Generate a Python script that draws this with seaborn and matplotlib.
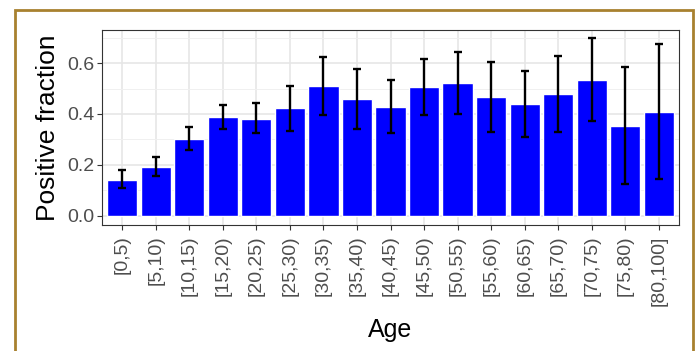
import numpy as np
import pandas as pd
import seaborn as sns
import matplotlib.pyplot as plt
from matplotlib.patches import Rectangle

ages = ['[0,5)', '[5,10)', '[10,15)', '[15,20)', '[20,25)', '[25,30)', '[30,35)',
        '[35,40)', '[40,45)', '[45,50)', '[50,55)', '[55,60)', '[60,65)', '[65,70)',
        '[70,75)', '[75,80)', '[80,100]']
frac = [0.142, 0.192, 0.302, 0.387, 0.381, 0.424, 0.510, 0.458, 0.429,
        0.505, 0.521, 0.466, 0.438, 0.478, 0.534, 0.354, 0.409]
lower = [0.110, 0.155, 0.260, 0.339, 0.324, 0.334, 0.395, 0.339, 0.324,
         0.396, 0.399, 0.329, 0.308, 0.330, 0.372, 0.126, 0.143]
upper = [0.179, 0.229, 0.347, 0.434, 0.442, 0.510, 0.624, 0.578, 0.534,
         0.617, 0.645, 0.604, 0.570, 0.629, 0.699, 0.584, 0.675]

df = pd.DataFrame({'Age': ages, 'frac': frac, 'lower': lower, 'upper': upper})

sns.set_style('whitegrid')
plt.rcParams['font.family'] = ['Liberation Sans', 'DejaVu Sans']

fig = plt.figure(figsize=(6.98, 3.51), dpi=100)
ax = fig.add_axes([102 / 698, 1 - 225 / 351, 577 / 698, 195 / 351])

sns.barplot(data=df, x='Age', y='frac', color='#0000FF', saturation=1,
            width=0.9, ax=ax, zorder=2)

pos = np.arange(len(df))
ax.errorbar(pos, df['frac'],
            yerr=[df['frac'] - df['lower'], df['upper'] - df['frac']],
            fmt='none', ecolor='black', elinewidth=1.7, capsize=3,
            capthick=1.7, zorder=3)

ax.set_xlim(-0.6, len(df) - 0.4)
ax.set_ylim(-0.0365, 0.73)
ax.set_yticks([0.0, 0.2, 0.4, 0.6])
ax.set_yticklabels(['0.0', '0.2', '0.4', '0.6'])
ax.set_yticks([0.1, 0.3, 0.5, 0.7], minor=True)

ax.grid(which='major', color='#E6E6E6', linewidth=1.2, zorder=0)
ax.grid(which='minor', axis='y', color='#F0F0F0', linewidth=0.7, zorder=0)
ax.set_axisbelow(True)

for s in ax.spines.values():
    s.set_color('#333333')
    s.set_linewidth(0.8)

ax.tick_params(axis='both', which='major', length=3.5, width=0.8, color='#333333',
               labelcolor='#4D4D4D', labelsize=14, pad=2, left=True, bottom=True)
ax.tick_params(axis='x', pad=4)
ax.tick_params(axis='y', which='minor', length=0)
plt.setp(ax.get_xticklabels(), rotation=90)

ax.set_xlabel('Age', fontsize=18, labelpad=9, color='black')
ax.set_ylabel('Positive fraction', fontsize=19, labelpad=5, color='black')

fig.patches.append(Rectangle((15 / 698, -0.2), 678 / 698, 1.2 - 10 / 351,
                             transform=fig.transFigure, fill=False,
                             edgecolor='#A8812F', linewidth=2))

fig.savefig('out.png', dpi=100)
